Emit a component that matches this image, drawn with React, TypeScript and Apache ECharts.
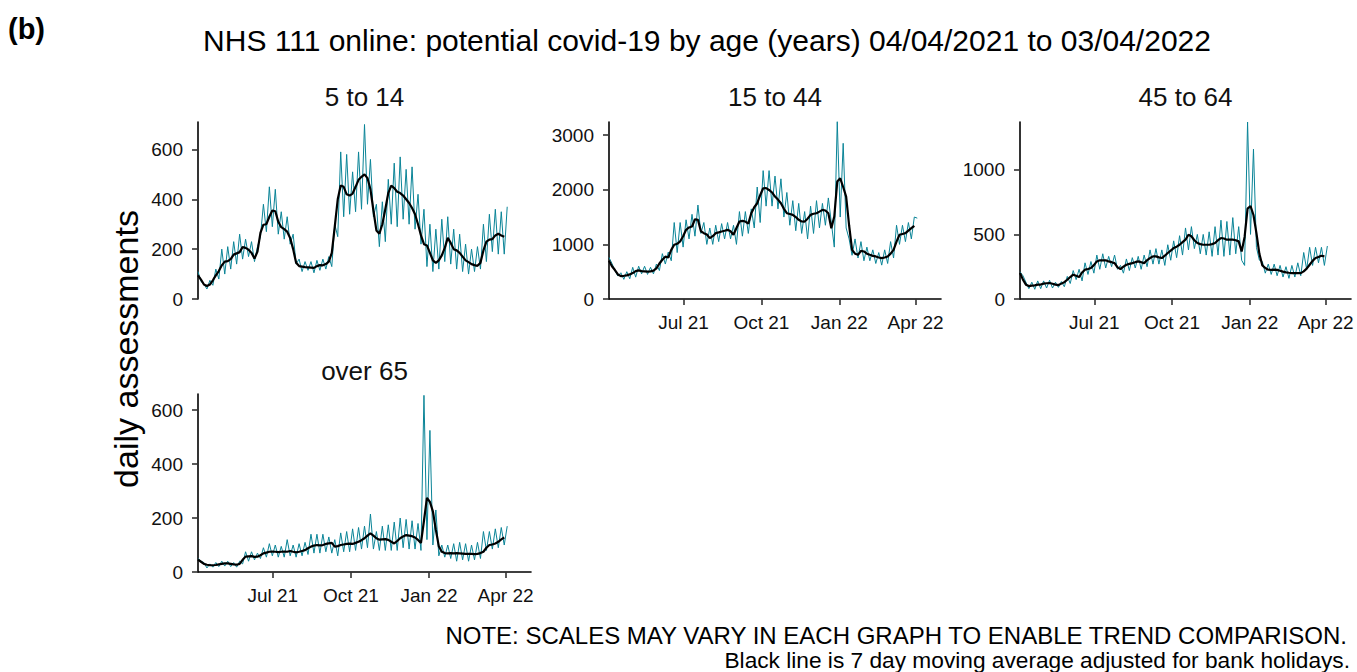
import React, { useEffect, useRef } from "react";
import * as echarts from "echarts";

// ---- data ----
const STEP_DAYS = 3.5; // daily series sampled at half-week points from 04/04/2021
const xTickDays = [88, 180, 272, 362];
const xTickLabels = ["Jul 21", "Oct 21", "Jan 22", "Apr 22"];
const xMaxDays = 392;

const panelTitles = ["5 to 14", "15 to 44", "45 to 64", "over 65"];
const yTicksA = [0, 200, 400, 600];
const yTicksB = [0, 1000, 2000, 3000];
const yTicksC = [0, 500, 1000];
const yTicksD = [0, 200, 400, 600];
const yMaxes = [710, 3240, 1370, 660];

const daily5to14 = [
  110, 70, 60, 40, 75, 55, 120, 80, 200, 100,
  210, 120, 230, 140, 260, 160, 240, 170, 230, 150,
  210, 250, 380, 270, 450, 290, 440, 260, 350, 240,
  330, 220, 260, 140, 160, 110, 150, 115, 150, 105,
  155, 115, 160, 120, 170, 130, 300, 250, 590, 330,
  580, 340, 510, 350, 590, 360, 700, 380, 560, 330,
  380, 210, 390, 230, 480, 300, 545, 290, 570, 320,
  520, 300, 530, 280, 420, 220, 360, 130, 300, 110,
  280, 120, 320, 150, 330, 140, 280, 120, 260, 110,
  220, 100, 200, 110, 210, 120, 300, 150, 340, 190,
  360, 180, 350, 180, 370,
];
const avg5to14 = [
  95, 78, 58, 52, 58, 75, 95, 112, 135, 150,
  152, 160, 178, 183, 188, 208, 205, 198, 185, 162,
  190, 265, 298, 300, 330, 355, 352, 310, 288, 280,
  270, 245, 200, 145, 132, 130, 128, 127, 126, 125,
  132, 136, 135, 140, 150, 185, 290, 400, 455, 450,
  420, 415, 423, 450, 478, 490, 500, 485, 440, 355,
  275, 262, 300, 360, 425, 455, 445, 430, 425, 415,
  400, 385, 365, 340, 300, 255, 220, 215, 185, 155,
  145, 155, 175, 205, 245, 225, 200, 195, 185, 170,
  155, 148, 140, 136, 133, 145, 195, 230, 238, 240,
  255, 262, 255, 250,
];

const daily15to44 = [
  760, 650, 520, 420, 480, 360, 500, 370, 580, 400,
  600, 460, 600, 450, 580, 460, 640, 520, 830, 640,
  860, 700, 1400, 850, 1400, 950, 1450, 1100, 1550, 1150,
  1720, 1200, 1400, 1000, 1300, 1000, 1350, 1050, 1380, 1100,
  1400, 1100, 1350, 1000, 1600, 1150, 1600, 1200, 1650, 1300,
  2050, 1400, 2350, 1700, 2350, 1700, 2250, 1650, 2200, 1500,
  1950, 1350, 1800, 1250, 1750, 1200, 1600, 1100, 1700, 1200,
  1800, 1300, 1750, 1350, 1850, 1400, 950, 3250, 1500, 2850,
  1300, 1100, 800, 1100, 750, 1050, 700, 950, 700, 900,
  650, 850, 620, 900, 650, 1050, 750, 1350, 1000, 1350,
  1050, 1400, 1100, 1500, 1480,
];
const avg15to44 = [
  700, 600, 530, 450, 420, 425, 432, 450, 475, 510,
  523, 510, 505, 500, 505, 520, 560, 650, 718, 775,
  760, 900, 992, 1010, 1053, 1150, 1266, 1310, 1327, 1460,
  1449, 1240, 1205, 1180, 1114, 1150, 1205, 1220, 1236, 1250,
  1266, 1240, 1175, 1300, 1418, 1430, 1418, 1380, 1570, 1680,
  1753, 1900, 2027, 2030, 1996, 1950, 1875, 1820, 1753, 1650,
  1570, 1555, 1540, 1500, 1449, 1420, 1418, 1470, 1540, 1560,
  1570, 1600, 1631, 1620, 1570, 1296, 1510, 2150, 2209, 2050,
  1875, 1350, 900, 830, 809, 880, 870, 830, 809, 790,
  779, 760, 748, 760, 779, 830, 900, 1050, 1175, 1190,
  1205, 1250, 1296, 1340,
];

const daily45to64 = [
  210, 180, 130, 80, 130, 75, 140, 80, 140, 85,
  145, 85, 130, 90, 135, 95, 175, 120, 220, 150,
  230, 140, 280, 190, 290, 200, 340, 230, 350, 240,
  330, 250, 340, 230, 260, 200, 310, 220, 320, 240,
  330, 230, 340, 250, 380, 270, 390, 270, 380, 260,
  420, 300, 450, 320, 490, 340, 550, 380, 560, 390,
  500, 350, 500, 340, 520, 330, 560, 340, 610, 330,
  600, 340, 630, 350, 560, 300, 260, 1370, 500, 1160,
  400, 300, 290, 200, 270, 190, 270, 180, 260, 170,
  250, 160, 260, 170, 280, 180, 360, 230, 400, 260,
  400, 280, 400, 260, 410,
];
const avg45to64 = [
  201, 150, 111, 100, 103, 105, 111, 112, 119, 122,
  124, 118, 111, 108, 119, 130, 149, 170, 188, 180,
  170, 205, 227, 232, 240, 262, 291, 300, 299, 300,
  291, 285, 278, 245, 232, 250, 265, 272, 278, 285,
  291, 285, 278, 300, 317, 330, 330, 322, 317, 335,
  356, 375, 394, 405, 420, 440, 459, 497, 485, 455,
  433, 425, 420, 420, 420, 425, 433, 455, 472, 468,
  459, 459, 459, 455, 446, 368, 480, 700, 720, 650,
  510, 350, 260, 240, 227, 225, 227, 225, 219, 212,
  206, 203, 201, 201, 201, 200, 214, 235, 265, 295,
  317, 325, 335, 330,
];

const dailyOver65 = [
  50, 40, 35, 15, 30, 18, 35, 20, 40, 22,
  40, 20, 35, 18, 40, 30, 75, 40, 75, 45,
  70, 50, 90, 55, 105, 60, 100, 55, 95, 55,
  120, 60, 100, 55, 105, 60, 110, 65, 140, 70,
  140, 70, 140, 75, 130, 70, 120, 60, 145, 75,
  150, 75, 160, 80, 165, 85, 170, 90, 215, 85,
  150, 80, 170, 80, 175, 80, 185, 80, 200, 90,
  195, 85, 190, 85, 180, 80, 655, 120, 525, 100,
  230, 60, 100, 55, 100, 50, 105, 40, 110, 45,
  105, 40, 100, 45, 110, 50, 150, 80, 150, 85,
  160, 90, 165, 100, 170,
];
const avgOver65 = [
  46, 38, 30, 27, 25, 25, 26, 28, 30, 32,
  32, 30, 28, 27, 30, 45, 57, 58, 59, 56,
  57, 62, 69, 72, 75, 76, 75, 74, 75, 76,
  75, 78, 75, 73, 75, 78, 81, 88, 94, 98,
  100, 99, 100, 104, 106, 108, 94, 96, 100, 102,
  104, 105, 104, 108, 112, 118, 125, 135, 143, 135,
  125, 120, 121, 122, 119, 112, 106, 115, 125, 132,
  137, 135, 133, 128, 119, 108, 190, 275, 260, 225,
  156, 95, 75, 70, 69, 70, 69, 70, 69, 68,
  67, 67, 67, 66, 67, 70, 75, 90, 100, 102,
  106, 112, 121, 128,
];

const dailySeries = [daily5to14, daily15to44, daily45to64, dailyOver65];
const avgSeries = [avg5to14, avg15to44, avg45to64, avgOver65];
const yTicks = [yTicksA, yTicksB, yTicksC, yTicksD];

// ---- styling / layout ----
const FONT = "'Liberation Sans', Arial, Helvetica, sans-serif";
const TEAL = "#0a8497";
const grids = [
  { left: 198, top: 122, width: 333, height: 177 },
  { left: 609, top: 122, width: 332, height: 177 },
  { left: 1020, top: 122, width: 331, height: 177 },
  { left: 198, top: 394, width: 333, height: 178 },
];

const toPoints = (vals: number[]) => vals.map((v, j) => [j * STEP_DAYS, v]);

export default function App() {
  const ref = useRef<HTMLDivElement>(null);
  useEffect(() => {
    if (!ref.current) return;
    const chart = echarts.init(ref.current, null, { renderer: "svg" });

    const xAxis = grids.map((_, i) => {
      const show = i !== 0;
      return {
        type: "value",
        gridIndex: i,
        min: 0,
        max: xMaxDays,
        splitLine: { show: false },
        axisLine: { show, onZero: false, lineStyle: { color: "#000", width: 1.6 } },
        axisTick: {
          show,
          customValues: xTickDays,
          length: 6,
          lineStyle: { color: "#333", width: 1.6 },
        },
        axisLabel: {
          show,
          customValues: xTickDays,
          formatter: (v: number) => {
            const k = xTickDays.indexOf(v);
            return k >= 0 ? xTickLabels[k] : "";
          },
          fontSize: 19,
          color: "#111",
          fontFamily: FONT,
          margin: 14,
        },
      };
    });

    const yAxis = grids.map((_, i) => ({
      type: "value",
      gridIndex: i,
      min: 0,
      max: yMaxes[i],
      splitLine: { show: false },
      axisLine: { show: true, onZero: false, lineStyle: { color: "#000", width: 1.6 } },
      axisTick: {
        show: true,
        customValues: yTicks[i],
        length: 6,
        lineStyle: { color: "#333", width: 1.6 },
      },
      axisLabel: {
        customValues: yTicks[i],
        formatter: (v: number) => String(v),
        fontSize: 19,
        color: "#111",
        fontFamily: FONT,
        margin: 15,
      },
    }));

    const series: any[] = [];
    grids.forEach((_, i) => {
      series.push({
        type: "line",
        xAxisIndex: i,
        yAxisIndex: i,
        data: toPoints(dailySeries[i]),
        showSymbol: false,
        symbol: "none",
        lineStyle: { color: TEAL, width: 1 },
        z: 2,
      });
      series.push({
        type: "line",
        xAxisIndex: i,
        yAxisIndex: i,
        data: toPoints(avgSeries[i]),
        showSymbol: false,
        symbol: "none",
        lineStyle: { color: "#000", width: 2.2 },
        z: 3,
      });
    });

    const panelTitleGraphics = grids.map((g, i) => ({
      type: "text",
      x: g.left + g.width / 2,
      y: g.top - (i === 3 ? 23 : 25),
      style: {
        text: panelTitles[i],
        fill: "#111",
        font: `26px ${FONT}`,
        textAlign: "center",
        textVerticalAlign: "middle",
      },
    }));

    chart.setOption({
      animation: false,
      backgroundColor: "#fff",
      grid: grids.map((g) => ({ ...g, containLabel: false })),
      xAxis,
      yAxis,
      series,
      graphic: [
        {
          type: "text",
          x: 8,
          y: 29,
          style: {
            text: "(b)",
            fill: "#000",
            font: `bold 29px ${FONT}`,
            textAlign: "left",
            textVerticalAlign: "middle",
          },
        },
        {
          type: "text",
          x: 707,
          y: 40,
          style: {
            text: "NHS 111 online: potential covid-19 by age (years) 04/04/2021 to 03/04/2022",
            fill: "#000",
            font: `30px ${FONT}`,
            textAlign: "center",
            textVerticalAlign: "middle",
          },
        },
        ...panelTitleGraphics,
        {
          type: "text",
          x: 126,
          y: 349,
          rotation: Math.PI / 2,
          style: {
            text: "daily assessments",
            fill: "#000",
            font: `34px ${FONT}`,
            textAlign: "center",
            textVerticalAlign: "middle",
          },
        },
        {
          type: "text",
          x: 1347,
          y: 635,
          style: {
            text: "NOTE: SCALES MAY VARY IN EACH GRAPH TO ENABLE TREND COMPARISON.",
            fill: "#000",
            font: `24px ${FONT}`,
            textAlign: "right",
            textVerticalAlign: "middle",
          },
        },
        {
          type: "text",
          x: 1350,
          y: 660,
          style: {
            text: "Black line is 7 day moving average adjusted for bank holidays.",
            fill: "#000",
            font: `22.7px ${FONT}`,
            textAlign: "right",
            textVerticalAlign: "middle",
          },
        },
      ],
    });
    return () => chart.dispose();
  }, []);

  return (
    <div
      ref={ref}
      style={{ position: "absolute", left: 0, top: 0, width: 1357, height: 672 }}
    />
  );
}
